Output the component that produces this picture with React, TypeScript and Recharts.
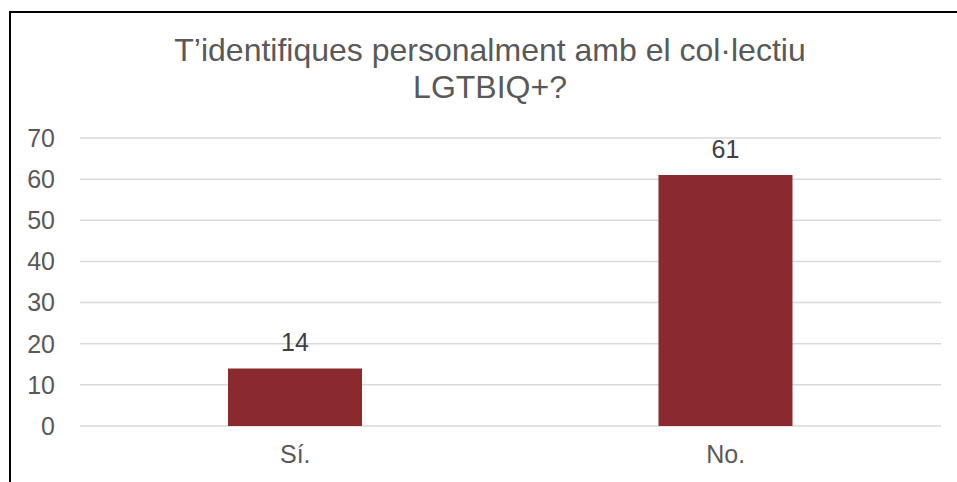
import { BarChart, Bar, XAxis, YAxis, CartesianGrid, LabelList } from 'recharts';

const categories = ['Sí.', 'No.'];
const counts = [14, 61];
const yTicks = [0, 10, 20, 30, 40, 50, 60, 70];
const titleLines = ['T’identifiques personalment amb el col·lectiu', 'LGTBIQ+?'];

const chartData = categories.map((name, i) => ({ name, value: counts[i] }));

const FONT = '"Liberation Sans", Arial, sans-serif';

export default function App() {
  return (
    <div style={{ position: 'fixed', left: 0, top: 0, width: 957, height: 482, background: '#fff', fontFamily: FONT }}>
      {/* frame, only left and top edges are visible in the crop */}
      <div
        style={{
          position: 'absolute',
          left: 9,
          top: 11,
          right: 0,
          bottom: 0,
          borderLeft: '2px solid #000',
          borderTop: '2px solid #000',
        }}
      />
      <div
        style={{
          position: 'absolute',
          left: 0,
          width: 980,
          top: 32,
          textAlign: 'center',
          fontSize: 32,
          lineHeight: '37px',
          color: '#595959',
        }}
      >
        {titleLines.map((t) => (
          <div key={t}>{t}</div>
        ))}
      </div>
      <div style={{ position: 'absolute', left: 0, top: 0 }}>
        <BarChart
          width={957}
          height={482}
          data={chartData}
          margin={{ top: 138, right: 16, bottom: 26, left: 0 }}
        >
          <CartesianGrid vertical={false} stroke="#d9d9d9" strokeWidth={1.5} />
          <XAxis
            dataKey="name"
            height={30}
            axisLine={false}
            tickLine={false}
            tickSize={0}
            tickMargin={19}
            tick={{ fontSize: 25, fill: '#595959', fontFamily: FONT }}
          />
          <YAxis
            width={80}
            domain={[0, 70]}
            ticks={yTicks}
            axisLine={false}
            tickLine={false}
            tickSize={0}
            tickMargin={25}
            tick={{ fontSize: 25, fill: '#595959', fontFamily: FONT }}
          />
          <Bar dataKey="value" fill="#8b2a2e" barSize={134} isAnimationActive={false}>
            <LabelList
              dataKey="value"
              position="top"
              offset={17}
              style={{ fontSize: 25, fill: '#404040', fontFamily: FONT }}
            />
          </Bar>
        </BarChart>
      </div>
    </div>
  );
}
